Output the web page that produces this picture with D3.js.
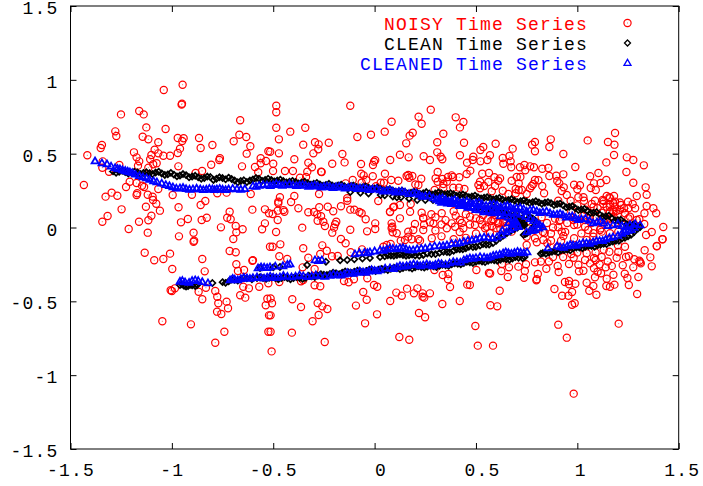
<!DOCTYPE html>
<html><head><meta charset="utf-8">
<script src="https://cdn.jsdelivr.net/npm/d3@7"></script>
<style>html,body{margin:0;padding:0;background:#fff}svg{display:block}</style>
</head><body><svg id="c" width="703" height="486"></svg>
<script>
const tickValues=[-1.5,-1,-0.5,0,0.5,1,1.5];
const legendLabels=["NOISY Time Series","CLEAN Time Series","CLEANED Time Series"];
const noisy=[[-.947,.967],[-1.04,.931],[-.952,.832],[-.95,.838],[-1.251,.766],[-1.161,.789],[-1.139,.766],[-.663,.726],[-1.126,.678],[-1.031,.667],[-1.279,.651],[-1.274,.62],[-.667,.628],[-.633,.613],[-1.144,.615],[-1.116,.597],[-.971,.606],[-.942,.604],[-.949,.586],[-.866,.606],[-1.067,.577],[-.695,.584],[-.8,.559],[-.858,.538],[-.613,.55],[-1.345,.559],[-1.351,.538],[-1.085,.527],[-.96,.534],[-1.187,.509],[-.971,.505],[-.631,.5],[-.524,.516],[-1.417,.489],[-1.101,.491],[-1.067,.502],[-1.042,.486],[-1.009,.486],[-1.174,.475],[-1.107,.462],[-1.161,.448],[-.763,.469],[-.766,.457],[-.562,.469],[-.536,.45],[-.806,.425],[-.654,.414],[-1.075,.435],[-1.092,.428],[-1.167,.419],[-1.259,.423],[-1.341,.448],[-1.343,.405],[-1.31,.378],[-1.116,.405],[-.968,.414],[-.59,.41],[-.562,.435],[-.574,.374],[-.851,.383],[-.883,.369],[-1.434,.288],[-1.226,.274],[-1.208,.31],[-1.174,.301],[-1.147,.283],[-1.137,.274],[-1.067,.261],
[-.12,.825],[.277,.798],[-.485,.825],[-.485,.78],[.217,.75],[.4,.746],[.084,.716],[.232,.703],[.438,.714],[.421,.678],[-.485,.676],[-.416,.649],[-.342,.676],[.05,.649],[-.018,.628],[-.085,.613],[.188,.642],[.173,.622],[.339,.635],[-.472,.597],[-.294,.577],[-.226,.574],[-.276,.563],[-.352,.561],[-.278,.53],[-.302,.502],[-.472,.502],[-.515,.513],[.156,.57],[.309,.577],[.441,.574],[.309,.509],[.421,.489],[-.159,.498],[.125,.493],[.168,.475],[.242,.482],[.273,.457],[.326,.479],[.334,.462],[-.396,.462],[-.327,.439],[-.209,.432],[-.148,.441],[-.067,.43],[.003,.455],[-.003,.446],[-.008,.423],[.077,.457],[-.5,.432],[.456,.439],[-.309,.408],[-.501,.383],[-.442,.383],[-.403,.383],[-.332,.378],[-.264,.378],[-.261,.376],[.311,.376],[.454,.362],[.051,.364],[-.066,.364],[-.054,.353],[-.009,.347],[.166,.356],[.186,.349],[.158,.349],[.171,.337],[-.338,.342],[-.368,.337],[-.041,.322],[-.108,.322],[.23,.33],[.082,.322],[.117,.317],[.301,.333],[.311,.31],[.334,.328],[.356,.31],[.339,.295],[.362,.342],[.38,.353],[.387,.342],[.418,.34],[.03,.303],[.046,.303],[-.064,.303],[-.143,.299],[.201,.292],[.216,.288],[.007,.279],[.296,.254],[.339,.27],[.388,.27],[.416,.27],[.443,.261],
[1.186,.64],[1.051,.59],[1.151,.579],[1.183,.561],[.869,.597],[.791,.579],[.777,.561],[.862,.545],[.597,.567],[.536,.545],[.522,.525],[.681,.534],[.791,.516],[.931,.498],[1.181,.491],[.569,.489],[.665,.484],[.632,.471],[.487,.479],[.484,.457],[.522,.448],[.556,.457],[.671,.448],[.635,.432],[1.244,.475],[1.276,.457],[1.143,.441],[1.328,.421],[.99,.41],[.674,.408],[.717,.408],[.739,.423],[.743,.387],[.767,.414],[.786,.408],[.827,.398],[.857,.403],[.472,.385],[.531,.364],[.564,.369],[1.104,.369],[1.242,.376],[.931,.36],[.862,.349],[.896,.351],[1.063,.347],[.591,.34],[.619,.333],[.701,.342],[.719,.342],[1.143,.322],[.808,.32],[.791,.322],[.676,.317],[.711,.299],[.561,.308],[.61,.317],[.52,.31],[.512,.288],[.54,.281],[.594,.281],[.901,.315],[.911,.299],[1.115,.301],[1.082,.299],[1.276,.303],[.984,.29],[1.013,.286],[1.066,.267],[1.091,.254],[1.337,.272],[1.342,.222],[1.293,.213],[.827,.281],[.783,.295],[.775,.281],[.767,.265],[.923,.247],[.933,.272],[1,.259],[.711,.254],[.696,.261],[.578,.245],[.632,.249],[.52,.265],[.836,.232],[.726,.254],[.75,.227],[.66,.227],[.696,.232],[.948,.22],[.967,.181],[.906,.181],[1.005,.205],[1.03,.205],[1.033,.181],[1.087,.181],[1.125,.186],[1.181,.213],[1.158,.205],[1.145,.213],[1.25,.175],[1.273,.159],[1.214,.152],[1.186,.175],[1.161,.159],[1.128,.159],[1.071,.159],[1.342,.146],[1.375,.13],[1.389,.096],[1.331,.096],[1.285,.13],[1.252,.13],[1.21,.118],[1.186,.141],[1.178,.107],[1.235,.096],[1.26,.073],[1.306,.056],[1.424,.003],[1.421,-.08],[1.392,-.125],[1.339,-.051],[1.33,.024],[.576,.044],[.61,.03],[.635,.03],[.911,.044],[.984,.017],[1.038,.005],[1.115,-.006],[.906,.001],[.824,.069],[.5,.062],[.52,.051],[.495,.017],[.545,-.005],
[.331,.096],[.356,-.005],[.397,.005],[.438,-.005],[.471,.073],[.421,.051],[.38,.028],[.29,.028],[.24,.062],[.191,-.017],[.166,-.028],[.084,.028],[.084,-.005],[.125,.062],[.175,.107],[.076,.107],[.092,.137],[.125,.152],[.178,.159],[.232,.1],[.282,-.073],[.24,-.017],[.166,-.062],[.586,.051],[.61,.028],[.635,.039],[.602,-.005],[.569,-.039],[.553,.005],[.594,.085],[.536,.085],[.676,-.028],[.783,-.017],[.75,-.062],[.791,-.073],[.758,-.005],[.832,-.085],[.734,.028],[.915,.051],[.923,-.028],[.98,.051],[1.038,.051],[1.054,-.017],[1.079,-.039],[1.112,-.017],[1.062,.062],[1.161,.198],[1.178,.165],[1.145,.141],[1.161,.107],[1.178,.073],[1.145,.051],[1.186,.028],[1.161,-.039],[1.202,-.028],[1.227,.017],[1.252,.062],[1.293,.051],
[.982,-1.125],[.948,-.746],[1.204,-.651],[.906,-.658],[.497,-.667],[.509,-.8],[.584,-.8],[.571,-.527],[.605,-.534],[.974,-.523],[.987,-.513],[.617,-.428],[.925,-.462],[.956,-.462],[.974,-.437],[.887,-.416],[1.059,-.428],[1.094,-.455],[1.295,-.45],[1.079,-.396],[1.046,-.374],[1.143,-.396],[1.161,-.401],[1.183,-.387],[1.254,-.389],[1.247,-.342],[1.234,-.313],[1.301,-.335],[1.178,-.32],[1.145,-.347],[1.117,-.31],[1.087,-.337],[1.367,-.263],[1.276,-.27],[1.224,-.256],[1.306,-.225],[1.313,-.243],[1.31,-.235],[1.36,-.202],[1.392,-.127],[1.419,-.08],[1.332,-.154],[1.254,-.195],[1.281,-.215],[1.194,-.205],[1.202,-.166],[1.158,-.164],[1.235,-.13],[1.082,-.207],[1.046,-.175],[.982,-.205],[.959,-.247],[1.005,-.252],[1.063,-.243],[1.082,-.276],[1.008,-.297],[1.03,-.293],[.903,-.261],[.908,-.301],[.847,-.279],[.939,-.369],[.959,-.362],[.99,-.381],[.959,-.385],[.798,-.358],[.8,-.35],[.805,-.315],[.737,-.34],[.741,-.295],[.657,-.335],[.625,-.295],[.663,-.27],[.709,-.265],[.747,-.249],[.791,-.236],[.564,-.308],[.57,-.312],[.502,-.288],[.628,-.247],[.47,-.39],[.852,-.107],[.75,-.119],[.839,-.037],[.901,-.134],[.984,-.073],[.931,-.058],[1.046,-.085],[1.12,-.028],[1.079,-.062],[1.367,-.03],[1.038,-.22],
[-.406,-.486],[-.363,-.538],[-.281,-.511],[-.258,-.534],[-.233,-.552],[-.276,-.593],[-.306,-.635],[-.408,-.712],[-.246,-.775],[-.508,-.839],[-.513,-.706],[-.513,-.595],[-.506,-.513],[-.513,-.48],[-.092,-.529],[.012,-.588],[-.047,-.649],[.122,-.742],[.171,-.76],[.219,-.579],[.249,-.608],[.077,-.498],[-.039,-.489],[-.056,-.437],[-.003,-.389],[.013,-.401],[.107,-.441],[.134,-.462],[.16,-.414],[.194,-.446],[.211,-.412],[.237,-.446],[.237,-.469],[.245,-.475],[.273,-.446],[.334,-.518],[.42,-.498],[.372,-.403],[.457,-.387],[.336,-.322],[.364,-.315],[.362,-.351],[.295,-.288],[-.296,-.391],[-.268,-.398],[-.151,-.362],[-.128,-.371],[-.102,-.351],[-.036,-.344],[-.47,-.369],[-.363,-.364],[-.352,-.356],[-.296,-.281],[-.355,-.27],[-.47,-.195],[-.431,-.213],[-.327,-.205],[-.268,-.179],[-.352,-.141],[-.236,-.157],[-.258,-.121],[-.21,-.195],[-.182,-.193],[-.118,-.168],[-.503,-.13],[-.465,-.114],[-.062,-.148],[-.166,-.078],[-.143,-.107],[-.486,-.03],[-.357,-.001],[-.209,-.035],[-.2,-.001],[-.195,.022],[-.189,.039],[-.253,.039],[-.245,.01],[-.281,.046],[-.264,.076],[-.283,.089],[-.299,.105],[-.327,.103],[-.273,.137],[-.231,.141],[-.204,.11],[-.166,.144],[-.135,.198],[-.135,.181],[-.12,.121],[-.1,.121],[-.075,.105],[-.064,.096],[-.044,.056],[-.12,-.015],[-.037,-.026],[.003,.028],[.003,-.01],[.018,.179],[.076,.105],[.096,.141],[.24,.066],[.273,.035],[.199,.024],[.244,.019],[.087,.005],[.089,-.033],[.109,-.039],[.183,-.08],[.15,-.085],[.129,-.089],[.216,-.08],[.224,-.089],[.06,-.119],[.043,-.13],[.079,-.112],[-.503,.091],[-.478,.114],[-.45,.118],[-.445,.107],[-.478,.051],[-.475,.175],[-.475,.164],[-.412,.173],[-.376,.13],[-.396,.213],[-.467,.205],[-.274,.227],
[-1.327,.209],[-1.297,.236],[-1.269,.215],[-1.174,.22],[-1.171,.232],[-1.119,.222],[-1.095,.209],[-1.093,.186],[-1.077,.161],[-1.128,.141],[-1.059,.114],[-1.248,.123],[-1.317,.078],[-1.343,.039],[-1.162,.039],[-1.101,.08],[-1.116,.049],[-1.213,-.01],[-1.119,-.035],[-.996,.22],[-.901,.222],[-.776,.232],[-.73,.236],[-.611,.227],[-.967,.137],[-.858,.152],[-.835,.179],[-.955,.035],[-.921,.058],[-.853,.051],[-.828,.066],[-.965,-.06],[-.893,-.035],[-.893,-.096],[-.89,-.09],[-.758,.001],[-.727,.066],[-.715,.107],[-.71,.056],[-.603,.121],[-.541,.123],[-.521,.096],[-.685,.01],[-.651,-.012],[-.682,-.033],[-.697,-.078],[-.541,.028],[-.555,-.012],[-.516,-.13],[-1.134,-.171],[-1.087,-.222],[-1.042,-.213],[-1.009,-.177],[-.998,-.281],[-.85,-.213],[-.838,-.297],[-.715,-.159],[-.685,-.168],[-.682,-.249],[-.674,-.295],[-.644,-.288],[-.603,-.225],[-.6,-.222],[-1,-.43],[-1.006,-.425],[-.985,-.412],[-.868,-.435],[-.85,-.486],[-.832,-.408],[-.786,-.43],[-.776,-.469],[-.771,-.513],[-.73,-.502],[-.723,-.547],[-.777,-.57],[-.756,-.586],[-.663,-.459],[-.638,-.475],[-.648,-.401],[-.62,-.412],[-.569,-.401],[-.524,-.378],[-.529,-.482],[-.537,-.527],[-.521,-.595],[-1.047,-.635],[-.906,-.656],[-.741,-.706],[-.786,-.78],[-.524,-.706],
[1.1,.13],[1.12,.1],[1.09,.07],[1.13,.05],[1.07,.03],[1.15,.02],[1.2,.09],[1.23,.13],[1.16,.14],[1.21,.17],[1.19,.11],[1.13,.18],[1.08,.14],[1.04,.12],[1,.15],[.97,.11],[1.03,.08],[1.13,-.15],[1.09,-.17],[1.12,-.2],[1.15,-.23],[1.17,-.26],[1.14,-.27],[1.11,-.25],[1.09,-.22],[1,-.17],[.97,-.18],[.93,-.2],[.88,-.2],[.86,-.23],[.82,-.23],[1.2,-.12],[1.24,-.2],[1.1,-.3],[.3,.07],[.35,.05],[.4,.08],[.43,.03],[.47,.02],[.3,-.02],[.33,.02],[.42,-.03],[.45,.09],[.39,.11],[.28,.09],[.33,-.06],[.39,-.08],[.45,-.07],[.5,-.04],[.53,.02],[.56,.06],[.65,.04],[.62,-.01],[.58,.01],[.65,.01],[.85,.03],[.88,0],[.87,-.04],[.89,.06],[.95,.03],[.94,-.03],[1,.02],[1.02,-.04],[.83,-.03],[.8,-.1],[.87,-.09],[.92,-.09]];
const clean=[[-1.29,.38],[-1.26,.378],[-1.23,.375],[-1.2,.37],[-1.17,.373],[-1.14,.37],[-1.11,.368],[-1.08,.372],[-1.05,.366],[-1.02,.36],[-.99,.358],[-.96,.352],[-.93,.355],[-.9,.345],[-.87,.34],[-.84,.335],[-.81,.342],[-.78,.33],[-.75,.335],[-.72,.338],[-.69,.318],[-.66,.315],[-.63,.308],[-.6,.325],[-.57,.33],[-.54,.322],[-.51,.322],[-.48,.318],[-.45,.315],[-.42,.31],[-.39,.308],[-.36,.305],[-.33,.3],[-.3,.296],[-.27,.292],[-.24,.288],[-.21,.285],[-.18,.285],[-.15,.28],[-.12,.278],[-.09,.275],[-.06,.272],[-.03,.27],[0,.265],[.03,.26],[.06,.255],[.09,.25],[.12,.245],[.15,.24],[.18,.235],[.21,.235],[.24,.232],[.27,.23],[.3,.23],[.33,.232],[.36,.228],[.39,.225],[.42,.22],[.45,.215],[.48,.21],[.51,.205],[.54,.202],[.57,.198],[.6,.195],[.63,.19],[.66,.186],[.69,.182],[.72,.178],[.75,.175],[.78,.172],[.81,.17],[.84,.168],[.87,.165],[.9,.158],[.93,.15],[.96,.14],[.99,.13],[1.02,.122],[1.05,.112],[1.08,.1],[1.11,.088],[1.14,.075],[1.17,.062],[1.2,.05],[1.23,.035],[1.26,.018],[1.29,.005],[1.31,.003],
[1.28,-.03],[1.25,-.06],[1.22,-.075],[1.19,-.09],[1.16,-.1],[1.13,-.11],[1.1,-.12],[1.07,-.125],[1.04,-.13],[1.01,-.135],[.98,-.14],[.95,-.15],[.92,-.155],[.89,-.16],[.86,-.17],[.83,-.173],[.82,-.178],[.74,-.2],[.71,-.205],[.68,-.21],[.65,-.215],[.62,-.218],[.59,-.222],[.56,-.226],[.53,-.23],[.5,-.232],[.47,-.236],[.44,-.24],[.41,-.245],[.38,-.25],[.35,-.256],[.32,-.26],[.29,-.262],[.26,-.265],[.23,-.267],[.2,-.27],[.17,-.272],[.14,-.274],[.11,-.276],[.08,-.28],[.05,-.283],[.02,-.286],[-.01,-.29],[-.04,-.294],[-.07,-.297],[-.1,-.3],[-.13,-.303],[-.16,-.306],[-.19,-.31],[-.22,-.315],[-.25,-.32],[-.28,-.325],[-.31,-.33],[-.34,-.34],[-.37,-.342],[-.4,-.342],[-.43,-.342],[-.46,-.343],[-.49,-.342],[-.52,-.34],[-.55,-.342],[-.58,-.342],[-.63,-.344],[-.66,-.35],[-.69,-.355],[-.72,-.365],[-.75,-.37],[-.8,-.376],[-.875,-.389],[-.9,-.392],[-.92,-.396],[-.94,-.394],[-.96,-.39],
[.717,.017],[.69,-.01],[.653,-.037],[.62,-.07],[.584,-.105],[.55,-.115],[.52,-.122],[.485,-.132],[.45,-.14],[.42,-.148],[.39,-.157],[.357,-.166],[.32,-.172],[.28,-.18],[.24,-.186],[.2,-.19],[.17,-.188],[.14,-.186],[.11,-.186],[.08,-.19],[.05,-.195],[.027,-.2],[-.023,-.207],[-.06,-.21],[-.1,-.215],[-.135,-.22],[-.17,-.222],[-.24,-.232],[-.333,-.254],[-.467,-.267],[-.5,-.27],[-.565,-.274],
[-.12,.24],[-.07,.235],[-.03,.23],[.03,.22],[.09,.21],[.13,.205],[.21,.186],[.288,.186],[.38,.175],[.47,.166],[.485,.132],[.55,.115],[.6,.105],[.633,.098],[.66,.085],[.69,.07],[.717,.051],[.735,.03],[.73,.013],
[.52,.166],[.57,.15],[.62,.13],[.683,.105],[.72,.09],[.767,.071],[.79,.05],[.8,.03],[.78,0],[.752,-.037],[.735,-.05]];
const cleanFill=[[-1.275,.37],[-1.245,.384],[-1.215,.366],[-1.185,.378],[-1.155,.362],[-1.125,.374],[-1.095,.362],[-1.065,.378],[-1.035,.356],[-1.005,.37],[-.975,.346],[-.945,.362],[-.915,.34],[-.885,.35],[-.855,.33],[-.825,.345],[-.795,.322],[-.765,.34],[-.735,.326],[-.705,.328],[-.675,.306],[-.645,.32],[-.615,.318],[-.585,.335],[-.555,.316],[-.525,.33],[-.495,.312],[-.465,.324],[-.435,.305],[-.405,.316],[-.375,.298],[-.345,.31],[-.315,.29],[-.285,.302],[-.255,.282],[-.225,.296],[-.195,.278],[-.165,.29],[-.135,.27],[-.105,.284],[-.075,.264],[-.045,.278],[-.015,.26],[.015,.27],[.045,.25],[.075,.26],[.105,.24],[.135,.25],[.165,.23],[.195,.242],[.225,.226],[.255,.24],[.285,.222],[.315,.238],[.345,.224],[.375,.232],[.405,.214],[.435,.224],[.465,.206],[.495,.216],[.525,.197],[.555,.206],[.585,.19],[.615,.2],[.645,.18],[.675,.192],[.705,.172],[.735,.184],[.765,.166],[.795,.178],[.825,.16],[.855,.172],[.885,.152],[.915,.162],[.945,.136],[.975,.145],[1.005,.118],[1.035,.126],[1.065,.098],[1.095,.104],[1.125,.074],[1.155,.08],[1.185,.048],[1.215,.052],[1.245,.022],[1.275,.02],[1.3,-.005],
[1.265,-.05],[1.235,-.07],[1.205,-.09],[1.175,-.095],[1.145,-.112],[1.115,-.115],[1.085,-.13],[1.055,-.125],[1.025,-.14],[.995,-.135],[.965,-.155],[.935,-.152],[.905,-.168],[.875,-.165],[.845,-.178],[.73,-.208],[.695,-.2],[.665,-.218],[.635,-.21],[.605,-.225],[.575,-.218],[.545,-.234],[.515,-.225],[.485,-.24],[.455,-.232],[.425,-.25],[.395,-.242],[.365,-.26],[.335,-.252],[.305,-.268],[.275,-.258],[.245,-.272],[.215,-.262],[.185,-.278],[.155,-.268],[.125,-.282],[.095,-.272],[.065,-.288],[.035,-.28],[.005,-.295],[-.025,-.285],[-.055,-.302],[-.085,-.292],[-.115,-.308],[-.145,-.298],[-.175,-.316],[-.205,-.306],[-.235,-.322],[-.265,-.316],[-.295,-.335],[-.325,-.326],[-.355,-.348],[-.385,-.336],[-.415,-.35],[-.445,-.336],[-.475,-.35],[-.505,-.338],[-.535,-.348],[-.565,-.336],[-.605,-.35],[-.645,-.342],[-.675,-.36],[-.705,-.352],[-.735,-.375],[-.885,-.396],[-.91,-.388],[-.93,-.4],[-.95,-.385],
[.705,.0],[.67,-.025],[.635,-.055],[.6,-.09],[.565,-.115],[.535,-.112],[.5,-.13],[.465,-.13],[.435,-.148],[.405,-.148],[.37,-.168],[.34,-.164],[.3,-.18],[.26,-.176],[.22,-.192],[.185,-.184],[.155,-.192],[.125,-.182],[.095,-.192],[.065,-.188],
[.7,.03],[.72,.035],[.74,.015],[.7,.055],[.675,.078],[.645,.09],[.615,.105],[.575,.108],[.54,.12],[.595,.14],[.645,.12],[.7,.098],[.745,.08],[.78,.06],[.795,.015],[.77,-.02],[.745,-.042],
[.05,.218],[.11,.205],[.17,.195],[.25,.186],[.33,.18],[.425,.17],[.51,.13],[.575,.11]];
const cleaned=[[-1.379,.45],[-1.345,.437],[-1.32,.43],[-1.3,.415],[-1.28,.405],[-1.256,.396],[-1.23,.385],[-1.207,.376],[-1.18,.36],[-1.143,.342],[-1.11,.325],[-1.074,.308],[-1.03,.29],[-.995,.274],[-.96,.268],[-.93,.263],[-.896,.261],[-.86,.26],[-.83,.258],[-.8,.26],[-.778,.261],[-.75,.258],[-.72,.26],[-.679,.261],[-.64,.262],[-.6,.281],[-.57,.285],[-.531,.288],[-.5,.29],[-.47,.29],[-.44,.29],[-.403,.288],[-.37,.287],[-.34,.285],[-.31,.282],[-.28,.28],[-.25,.277],[-.22,.275],[-.19,.275],[-.16,.272],[-.13,.27],[-.1,.27],[-.072,.267],[-.04,.263],[-.01,.26],[.027,.254],[.06,.25],[.09,.246],[.12,.243],[.15,.238],[.19,.234],[.22,.224],[.25,.213],[.289,.2],[.32,.196],[.35,.19],[.38,.182],[.41,.178],[.437,.173],[.47,.168],[.5,.165],[.53,.16],[.57,.156],[.604,.152],[.64,.144],[.67,.138],[.7,.132],[.735,.125],[.767,.119],[.8,.112],[.83,.105],[.865,.098],[.9,.09],[.929,.085],[.96,.075],[.99,.066],[1.02,.057],[1.06,.047],[1.097,.037],[1.13,.028],[1.176,.017],[1.22,.012],[1.26,.018],[1.31,.017],
[1.28,0],[1.25,-.02],[1.22,-.04],[1.176,-.064],[1.14,-.08],[1.11,-.09],[1.078,-.098],[1.045,-.105],[1.01,-.112],[.979,-.119],[.95,-.125],[.915,-.132],[.855,-.139],[.752,-.166],[.72,-.168],[.69,-.17],[.66,-.172],[.634,-.173],[.6,-.186],[.57,-.2],[.54,-.202],[.5,-.205],[.47,-.207],[.44,-.22],[.406,-.234],[.37,-.24],[.33,-.246],[.3,-.25],[.273,-.254],[.24,-.254],[.21,-.253],[.175,-.254],[.14,-.262],[.11,-.268],[.076,-.274],[.027,-.288],[0,-.292],[-.03,-.296],[-.057,-.301],[-.09,-.305],[-.12,-.31],[-.15,-.316],[-.185,-.322],[-.22,-.325],[-.27,-.328],[-.31,-.328],[-.352,-.328],[-.39,-.33],[-.43,-.332],[-.467,-.335],[-.5,-.337],[-.53,-.337],[-.56,-.34],[-.6,-.34],[-.63,-.342],[-.66,-.347],[-.69,-.35],[-.713,-.355],[-.822,-.376],[-.885,-.355],[-.9,-.36],[-.935,-.369],[-.96,-.365],
[.703,.017],[.683,-.003],[.65,-.03],[.604,-.064],[.56,-.068],[.52,-.071],[.48,-.085],[.44,-.095],[.4,-.108],[.357,-.119],[.32,-.125],[.273,-.132],[.23,-.142],[.19,-.152],[.155,-.145],[.125,-.139],[.09,-.142],[.06,-.148],[.027,-.152],[-.023,-.166],[-.05,-.17],[-.097,-.179],[-.26,-.22],[-.294,-.22],[-.417,-.247],[-.452,-.26],[-.516,-.267],[-.545,-.27],[-.575,-.274],
[.32,.18],[.36,.165],[.4,.16],[.44,.15],[.48,.135],[.52,.118],[.56,.11],[.6,.1],[.64,.085],[.68,.06],[.7,.035],
[.33,.17],[.38,.16],[.42,.155],[.46,.145],[.5,.13],[.54,.115],[.59,.11],[.62,.108],[.683,.105],[.72,.088],[.767,.06],[.8,.03],[.83,.003],[.79,-.015],[.77,-.02],[.75,-.03]];
const cleanedFill=[[-1.268,.4],[-1.243,.39],[-1.218,.38],[-1.195,.37],[-1.16,.35],[-1.125,.335],[-1.09,.315],[-1.05,.3],[-1.012,.282],[-.978,.266],[-.945,.27],[-.913,.258],[-.878,.265],[-.845,.256],[-.815,.264],[-.789,.255],[-.764,.264],[-.735,.255],[-.7,.264],[-.66,.258],[-.585,.278],[-.55,.29],[-.515,.282],[-.485,.296],[-.455,.285],[-.42,.294],[-.385,.282],[-.355,.29],[-.325,.278],[-.295,.286],[-.265,.272],[-.235,.28],[-.205,.27],[-.175,.278],[-.145,.265],[-.115,.275],[-.085,.262],[-.055,.268],[-.025,.255],[.01,.262],[.043,.245],[.075,.254],[.105,.238],[.135,.246],[.17,.228],[.205,.234],[.235,.21],[.27,.214],[.305,.19],[.335,.2],[.365,.178],[.395,.188],[.425,.166],[.455,.178],[.485,.16],[.515,.17],[.55,.148],[.587,.16],[.622,.14],[.655,.148],[.685,.126],[.718,.135],[.75,.11],[.783,.12],[.815,.1],[.848,.11],[.882,.088],[.915,.095],[.945,.07],[.975,.078],[1.005,.052],[1.04,.06],[1.078,.03],[1.113,.042],[1.15,.012],[1.2,.025],[1.24,.005],[1.285,.025],
[1.265,-.015],[1.235,-.028],[1.2,-.055],[1.158,-.07],[1.125,-.09],[1.094,-.09],[1.06,-.108],[1.028,-.104],[.995,-.122],[.965,-.116],[.932,-.135],[.9,-.125],[.736,-.172],[.705,-.162],[.675,-.176],[.647,-.166],[.617,-.182],[.585,-.19],[.555,-.206],[.52,-.198],[.485,-.21],[.455,-.214],[.423,-.236],[.388,-.232],[.35,-.25],[.315,-.242],[.287,-.26],[.257,-.248],[.225,-.26],[.192,-.248],[.158,-.26],[.125,-.26],[.093,-.28],[.052,-.276],[.013,-.294],[-.015,-.286],[-.044,-.304],[-.073,-.297],[-.105,-.312],[-.135,-.306],[-.167,-.324],[-.203,-.316],[-.245,-.332],[-.29,-.322],[-.33,-.334],[-.37,-.322],[-.41,-.336],[-.45,-.326],[-.484,-.34],[-.515,-.33],[-.545,-.344],[-.58,-.335],[-.615,-.346],[-.645,-.338],[-.675,-.355],[-.7,-.345],[-.85,-.368],[-.87,-.36],[-.915,-.372],[-.948,-.36],
[.666,-.015],[.627,-.05],[.582,-.072],[.54,-.066],[.5,-.08],[.46,-.088],[.42,-.104],[.38,-.108],[.338,-.124],[.296,-.125],[.25,-.14],[.21,-.145],[.172,-.152],[.14,-.138],[.107,-.146],[.075,-.14],[.043,-.156],[0,-.16],[-.036,-.172],[-.075,-.172],[-.277,-.225],[-.43,-.25],[-.49,-.262],[-.53,-.272],[-.56,-.268],
[.34,.175],[.38,.172],[.42,.148],[.46,.135],[.5,.12],[.54,.105],[.58,.098],[.62,.078],[.66,.07],[.69,.045],[.71,.005],[.68,.02],[.63,-.02],[.66,.03],
[.35,.182],[.4,.165],[.44,.16],[.48,.142],[.52,.122],[.565,.118],[.605,.108],[.65,.1],[.7,.098],[.745,.075],[.785,.045],[.815,.018],[.81,-.005],[.78,-.02]];
const W=703,H=486,L=70.5,R=678.7,T=6,B=449;
const sx=d3.scaleLinear().domain([-1.5,1.5]).range([L,R]);
const sy=d3.scaleLinear().domain([-1.5,1.5]).range([B,T]);
const svg=d3.select("#c");
const font='"Liberation Mono", monospace';
const fmt=d=>String(d);
const labelStyle=s=>s.attr("font-family",font).attr("font-size",18).attr("letter-spacing","1.2px").attr("fill","#000");
function axis(a,tx,ty,labels){
  const g=svg.append("g").attr("transform",`translate(${tx},${ty})`).call(a);
  g.select(".domain").remove();
  g.selectAll("line").attr("stroke","#000").attr("stroke-width",1);
  if(labels) labelStyle(g.selectAll("text"));
  return g;
}
const bottom=axis(d3.axisBottom(sx).tickValues(tickValues).tickSize(-6).tickPadding(14).tickFormat(fmt),0,B,true);
bottom.selectAll("text").attr("dx",d=>d>=0?(d<1?6:3):0);
axis(d3.axisTop(sx).tickValues(tickValues).tickSize(-6).tickFormat(""),0,T,false);
const left=axis(d3.axisLeft(sy).tickValues(tickValues).tickSize(-6).tickPadding(12).tickFormat(fmt),L,0,true);
left.selectAll("text").attr("dy","0.42em");
axis(d3.axisRight(sy).tickValues(tickValues).tickSize(-6).tickFormat(""),R,0,false);
const marks=svg.append("g");
const diamondPath=d3.line()([[0,-3],[3,0],[0,3],[-3,0]])+"Z";
const trianglePath=d3.line()([[0,-3.6],[3.5,2.4],[-3.5,2.4]])+"Z";
function circle(g){g.append("circle").attr("r",3.6).attr("fill","none").attr("stroke","#ff0000").attr("stroke-width",1.2);g.append("rect").attr("x",-.5).attr("y",-.5).attr("width",1).attr("height",1).attr("fill","#ff0000").attr("opacity",.6);}
function diamond(g,w=1.3){g.append("path").attr("d",diamondPath).attr("fill","none").attr("stroke","#000").attr("stroke-width",w);}
function triangle(g,w=1.3){g.append("path").attr("d",trianglePath).attr("fill","none").attr("stroke","#0000ff").attr("stroke-width",w);}
function place(data,draw,w){
  marks.append("g").selectAll("g").data(data).join("g")
    .attr("transform",d=>`translate(${sx(d[0])},${sy(d[1])})`)
    .each(function(){draw(d3.select(this),w);});
}
place(noisy,circle);place(clean.concat(cleanFill),diamond,1.7);place(cleaned.concat(cleanedFill),triangle,1.7);
svg.append("rect").attr("x",L).attr("y",T).attr("width",R-L).attr("height",B-T).attr("fill","none").attr("stroke","#000").attr("stroke-width",1);
const colors=["#ff0000","#000000","#0000ff"],drawers=[circle,diamond,triangle];
legendLabels.forEach((t,i)=>{
  const y=24+i*20;
  labelStyle(svg.append("text").attr("x",588).attr("y",y+6).attr("text-anchor","end")).attr("fill",colors[i]).text(t);
  const g=svg.append("g").attr("transform",`translate(627.5,${y-1})`);drawers[i](g);
});
</script></body></html>
